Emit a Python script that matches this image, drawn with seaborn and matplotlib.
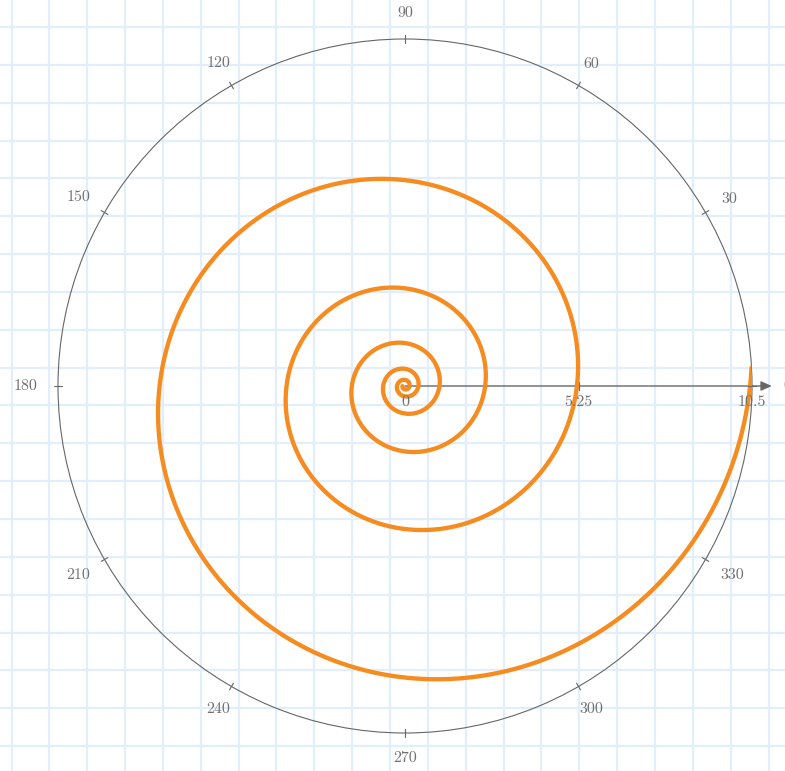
import numpy as np
import matplotlib
matplotlib.use("Agg")
import matplotlib.pyplot as plt
import seaborn as sns

# Values
angle_ticks = [0, 30, 60, 90, 120, 150, 180, 210, 240, 270, 300, 330]
angle_labels = ["0", "30", "60", "90", "120", "150", "180", "210", "240", "270", "300", "330"]
radius_ticks = [0, 5.25, 10.5]
radius_labels = ["0", "5.25", "10.5"]
r_max = 10.5

# Spiral shape read from the loop crossings (outer radius, end angle, growth)
spiral_r_end = 10.5
spiral_end_deg = 3.0
spiral_power = 8.0
spiral_total_turns = 12.0
spiral_start_turns = 6.5

line_color = "#f68b1f"
axis_color = "#666666"
label_color = "#707070"
paper_color = "#e3eefc"

sns.set_style("white")
plt.rcParams["font.family"] = ["cmr10", "DejaVu Serif"]
plt.rcParams["axes.formatter.use_mathtext"] = True

W, H = 785, 771
fig = plt.figure(figsize=(W / 100, H / 100), dpi=100)

# Graph paper background
bg = fig.add_axes([0, 0, 1, 1])
bg.set_xlim(0, W)
bg.set_ylim(H, 0)
bg.axis("off")
for x in np.arange(11.5, W, 37.85):
    bg.axvline(x, color=paper_color, lw=1.6, zorder=0)
for y in np.arange(27, H, 37.85):
    bg.axhline(y, color=paper_color, lw=1.6, zorder=0)

# Polar axes: centre (405, 386), radius 347 px
R_px = 347
ax = fig.add_axes([(405 - R_px) / W, (H - 386 - R_px) / H, 2 * R_px / W, 2 * R_px / H],
                  projection="polar")
ax.set_facecolor("none")
ax.set_ylim(0, r_max)
ax.set_xticks([])
ax.set_yticks([])
ax.grid(False)
ax.spines["polar"].set_color(axis_color)
ax.spines["polar"].set_linewidth(0.8)

# Spiral
t_total = 2 * np.pi * spiral_total_turns
t = np.linspace(2 * np.pi * spiral_start_turns, t_total, 4000)
r = spiral_r_end * (t / t_total) ** spiral_power
theta = t - t_total + np.deg2rad(spiral_end_deg)
sns.lineplot(x=theta, y=r, ax=ax, sort=False, estimator=None, color=line_color,
             linewidth=3.1, zorder=3)
ax.set_xlabel("")
ax.set_ylabel("")
ax.set_ylim(0, r_max)

# Angular ticks and labels
fs = 11.5
char_w = 4.0
half_h = 5.5
for a, lab in zip(angle_ticks, angle_labels):
    th = np.deg2rad(a)
    ax.plot([th, th], [r_max * 0.989, r_max * 1.011], color=axis_color, lw=0.8,
            clip_on=False, zorder=4)
    c, s = np.cos(th), np.sin(th)
    if a == 0:
        d = (773 - 405 - R_px) + 10 + char_w * len(lab)
    else:
        d = 20 + max(abs(c) * char_w * len(lab), abs(s) * half_h)
    ax.annotate(lab, xy=(th, r_max), xytext=(d * c, d * s), textcoords="offset pixels",
                ha="center", va="center", color=label_color, fontsize=fs,
                annotation_clip=False)

# Radial axis with arrow
ax.annotate("", xy=(0, r_max * 1.057), xytext=(0, 0),
            arrowprops=dict(arrowstyle="-|>,head_length=0.65,head_width=0.29",
                            color=axis_color, lw=1.0, shrinkA=0, shrinkB=0),
            annotation_clip=False, zorder=2)
for rv, lab in zip(radius_ticks, radius_labels):
    if 0 < rv < r_max:
        ax.plot([0], [rv], marker="|", markersize=6, color=axis_color, mew=0.8, zorder=2)
    ax.annotate(lab, xy=(0, rv), xytext=(0, -16), textcoords="offset pixels",
                ha="center", va="center", color=label_color, fontsize=fs,
                annotation_clip=False, zorder=5)

fig.savefig("out.png", dpi=100)
